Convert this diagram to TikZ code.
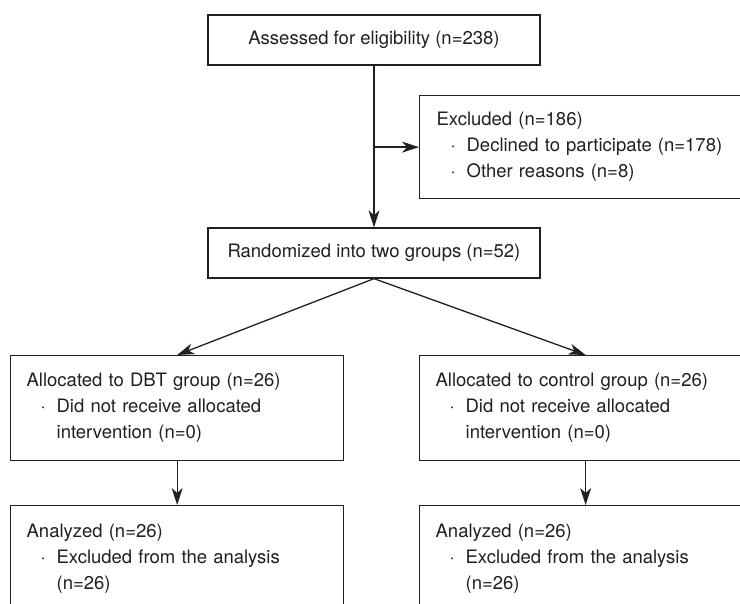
\documentclass[tikz,border=0pt]{standalone}
\usepackage{fontspec}
\setmainfont{TeX Gyre Heros}
\usetikzlibrary{arrows.meta}
\definecolor{ink}{HTML}{231F20}
\newcommand{\bdot}{\makebox[30pt][l]{\hspace{14pt}·}}
\newcommand{\bcont}{\hspace*{30pt}}
\begin{document}
\begin{tikzpicture}[x=1pt,y=-1pt,
  box/.style={draw=ink, line width=1.3pt, rectangle, text=ink,
    font=\fontsize{18.5}{26}\selectfont, inner ysep=0pt},
  lbox/.style={box, anchor=north west, align=left, inner xsep=16pt},
  arr/.style={draw=ink, line width=1.3pt, -{Stealth[length=17pt,width=11pt,inset=5pt]}}]
\useasboundingbox (0,0) rectangle (740,604);
\clip (0,0) rectangle (740,604);
\fill[white] (0,0) rectangle (740,604);

\node[box, minimum width=332pt, minimum height=50pt] (assess) at (374,40)
  {Assessed for eligibility (n=238)};
\node[lbox, inner xsep=17pt, text width=298pt, minimum height=103pt] (excl) at (419,95)
  {Excluded (n=186)\\ \bdot Declined to participate (n=178)\\ \bdot Other reasons (n=8)};
\node[box, minimum width=332pt, minimum height=50pt] (rand) at (374,253)
  {Randomized into two groups (n=52)};

\node[lbox, text width=301pt, minimum height=105pt] (dbt) at (10,355)
  {Allocated to DBT group (n=26)\\ \bdot Did not receive allocated\\ \bcont intervention (n=0)};
\node[lbox, text width=300pt, minimum height=105pt] (ctrl) at (419,355)
  {Allocated to control group (n=26)\\ \bdot Did not receive allocated\\ \bcont intervention (n=0)};

\node[lbox, text width=301pt, minimum height=106pt] (ana1) at (10,505)
  {Analyzed (n=26)\\ \bdot Excluded from the analysis\\ \bcont (n=26)};
\node[lbox, text width=300pt, minimum height=106pt] (ana2) at (419,505)
  {Analyzed (n=26)\\ \bdot Excluded from the analysis\\ \bcont (n=26)};

\draw[arr] (assess.south) -- (rand.north);
\draw[arr] (assess.south |- excl.west) -- (excl.west);
\draw[arr] (rand.south) -- (dbt.north);
\draw[arr] (rand.south) -- (ctrl.north);
\draw[arr] (dbt.south) -- (ana1.north);
\draw[arr] (ctrl.south) -- (ana2.north);
\end{tikzpicture}
\end{document}
